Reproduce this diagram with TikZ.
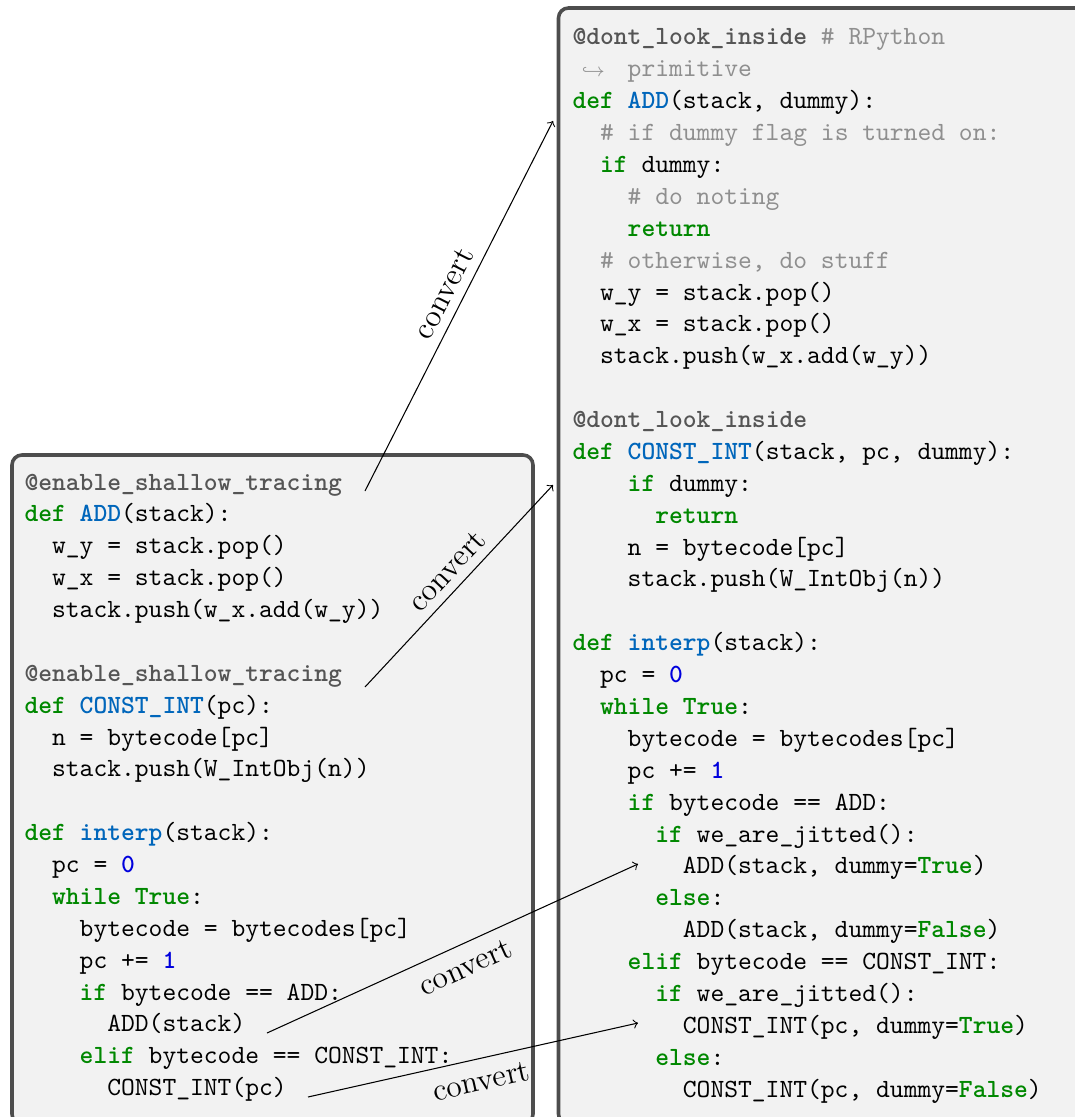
\documentclass[tikz,border=0pt]{standalone}
\usepackage{xcolor}
\definecolor{kwc}{HTML}{008800}
\definecolor{fnc}{HTML}{0066BB}
\definecolor{dec}{HTML}{555555}
\definecolor{cmt}{HTML}{8F8F8F}
\definecolor{numc}{HTML}{0000DD}
\definecolor{boxfill}{HTML}{F2F2F2}
\definecolor{boxline}{HTML}{4D4D4D}
\newcommand\kw[1]{{\bfseries\color{kwc}#1}}
\newcommand\fn[1]{{\bfseries\color{fnc}#1}}
\newcommand\dc[1]{{\bfseries\color{dec}#1}}
\newcommand\cm[1]{{\color{cmt}#1}}
\newcommand\nm[1]{{\bfseries\color{numc}#1}}
\newcommand\rline[4]{\node[cl] (#1) at ({572+#3*13.8},{45+#2*31.88}) {#4};}
\newcommand\lline[4]{\node[cl] (#1) at ({24+#3*13.8},{490+#2*31.88}) {#4};}
\tikzset{
  cl/.style={anchor=base west, inner sep=0pt, font=\ttfamily},
  codebox/.style={draw=boxline, fill=boxfill, line width=1.35pt, rounded corners=3.8pt},
  conv/.style={->, line width=0.4pt, black},
  labA/.style={sloped, above, pos=0.51, font=\large},
  labB/.style={sloped, below=1.2pt, pos=0.51, font=\large}
}
\begin{document}
\begin{tikzpicture}[x=0.3804pt, y=-0.3804pt]
\useasboundingbox (0,0) rectangle (1075,1117);
\begin{scope}
\clip (0,0) rectangle (1075,1117);
\draw[codebox] (558.5,8) rectangle (1085,1124);
\draw[codebox] (12,455) rectangle (533,1124);
\end{scope}
% right box code
\rline{r0}{0}{0}{\dc{@dont\_look\_inside} \cm{\# RPython}}
\node[cl] (r1h) at (581,{45+31.88}) {\cm{\scriptsize$\hookrightarrow$}};
\rline{r1}{1}{4}{\cm{primitive}}
\rline{r2}{2}{0}{\kw{def} \fn{ADD}(stack, dummy):}
\rline{r3}{3}{2}{\cm{\# if dummy flag is turned on:}}
\rline{r4}{4}{2}{\kw{if} dummy:}
\rline{r5}{5}{4}{\cm{\# do noting}}
\rline{r6}{6}{4}{\kw{return}}
\rline{r7}{7}{2}{\cm{\# otherwise, do stuff}}
\rline{r8}{8}{2}{w\_y = stack.pop()}
\rline{r9}{9}{2}{w\_x = stack.pop()}
\rline{r10}{10}{2}{stack.push(w\_x.add(w\_y))}
\rline{r12}{12}{0}{\dc{@dont\_look\_inside}}
\rline{r13}{13}{0}{\kw{def} \fn{CONST\_INT}(stack, pc, dummy):}
\rline{r14}{14}{4}{\kw{if} dummy:}
\rline{r15}{15}{6}{\kw{return}}
\rline{r16}{16}{4}{n = bytecode[pc]}
\rline{r17}{17}{4}{stack.push(W\_IntObj(n))}
\rline{r19}{19}{0}{\kw{def} \fn{interp}(stack):}
\rline{r20}{20}{2}{pc = \nm{0}}
\rline{r21}{21}{2}{\kw{while} \kw{True}:}
\rline{r22}{22}{4}{bytecode = bytecodes[pc]}
\rline{r23}{23}{4}{pc += \nm{1}}
\rline{r24}{24}{4}{\kw{if} bytecode == ADD:}
\rline{r25}{25}{6}{\kw{if} we\_are\_jitted():}
\rline{r26}{26}{8}{ADD(stack, dummy=\kw{True})}
\rline{r27}{27}{6}{\kw{else}:}
\rline{r28}{28}{8}{ADD(stack, dummy=\kw{False})}
\rline{r29}{29}{4}{\kw{elif} bytecode == CONST\_INT:}
\rline{r30}{30}{6}{\kw{if} we\_are\_jitted():}
\rline{r31}{31}{8}{CONST\_INT(pc, dummy=\kw{True})}
\rline{r32}{32}{6}{\kw{else}:}
\rline{r33}{33}{8}{CONST\_INT(pc, dummy=\kw{False})}
% left box code
\lline{l0}{0}{0}{\dc{@enable\_shallow\_tracing}}
\lline{l1}{1}{0}{\kw{def} \fn{ADD}(stack):}
\lline{l2}{2}{2}{w\_y = stack.pop()}
\lline{l3}{3}{2}{w\_x = stack.pop()}
\lline{l4}{4}{2}{stack.push(w\_x.add(w\_y))}
\lline{l6}{6}{0}{\dc{@enable\_shallow\_tracing}}
\lline{l7}{7}{0}{\kw{def} \fn{CONST\_INT}(pc):}
\lline{l8}{8}{2}{n = bytecode[pc]}
\lline{l9}{9}{2}{stack.push(W\_IntObj(n))}
\lline{l11}{11}{0}{\kw{def} \fn{interp}(stack):}
\lline{l12}{12}{2}{pc = \nm{0}}
\lline{l13}{13}{2}{\kw{while} \kw{True}:}
\lline{l14}{14}{4}{bytecode = bytecodes[pc]}
\lline{l15}{15}{4}{pc += \nm{1}}
\lline{l16}{16}{4}{\kw{if} bytecode == ADD:}
\lline{l17}{17}{6}{ADD(stack)}
\lline{l18}{18}{4}{\kw{elif} bytecode == CONST\_INT:}
\lline{l19}{19}{6}{CONST\_INT(pc)}
% arrow end points
\coordinate (s1) at (365,491);
\coordinate (e1) at (553,121);
\coordinate (s2) at (365,687);
\coordinate (e2) at (553,485);
\coordinate (s3) at (267,1033);
\coordinate (e3) at (638,864);
\coordinate (s4) at (308,1097);
\coordinate (e4) at (638,1023);
\draw[conv] (s1) -- node[labA] (c1) {convert} (e1);
\draw[conv] (s2) -- node[labA] (c2) {convert} (e2);
\draw[conv] (s3) -- node[labB] (c3) {convert} (e3);
\draw[conv] (s4) -- node[labB] (c4) {convert} (e4);
\end{tikzpicture}
\end{document}
